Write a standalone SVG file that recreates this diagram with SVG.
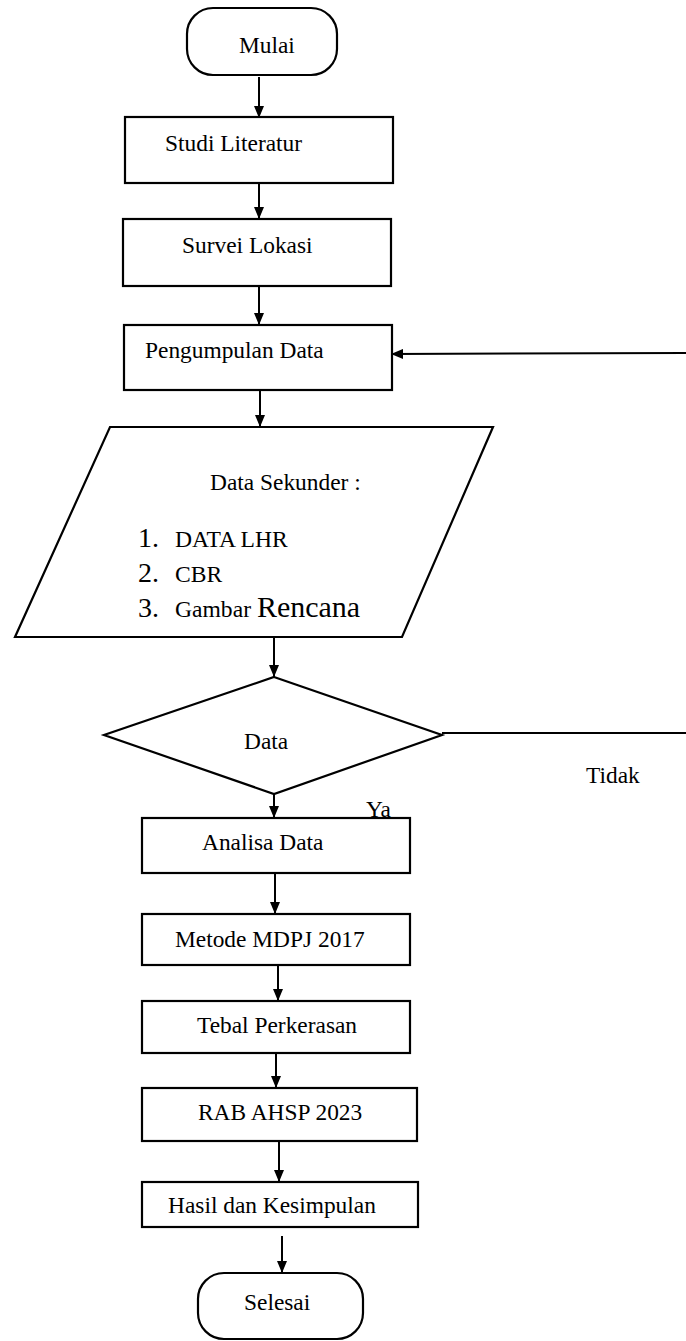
<svg xmlns="http://www.w3.org/2000/svg" width="686" height="1341" viewBox="0 0 686 1341">
<style>
.n{fill:#fff;stroke:#000;stroke-width:2.2}
.t{font-family:"Liberation Serif","Times New Roman",serif;font-size:23.4px;fill:#000}
.num{font-size:28px}
.sm{font-size:23.6px}
.c{stroke:#000;stroke-width:2;fill:none}
</style>
<defs>
<marker id="ah" markerUnits="userSpaceOnUse" markerWidth="12" markerHeight="10" refX="12" refY="5" orient="auto">
<path d="M0,0 L12,5 L0,10 z" fill="#000"/>
</marker>
</defs>
<rect width="686" height="1341" fill="#fff"/>
<g id="connectors">
<line class="c" x1="259" y1="77" x2="259" y2="118" marker-end="url(#ah)"/>
<line class="c" x1="259" y1="183" x2="259" y2="219" marker-end="url(#ah)"/>
<line class="c" x1="259" y1="286" x2="259" y2="325" marker-end="url(#ah)"/>
<line class="c" x1="260" y1="390" x2="260" y2="427" marker-end="url(#ah)"/>
<line class="c" x1="274" y1="637" x2="274" y2="677" marker-end="url(#ah)"/>
<line class="c" x1="274" y1="794" x2="274" y2="818" marker-end="url(#ah)"/>
<line class="c" x1="275" y1="873" x2="275" y2="914" marker-end="url(#ah)"/>
<line class="c" x1="278" y1="965" x2="278" y2="1001" marker-end="url(#ah)"/>
<line class="c" x1="276" y1="1053" x2="276" y2="1088" marker-end="url(#ah)"/>
<line class="c" x1="279" y1="1141" x2="279" y2="1182" marker-end="url(#ah)"/>
<line class="c" x1="282" y1="1236" x2="282" y2="1273" marker-end="url(#ah)"/>
<line class="c" x1="442" y1="733" x2="686" y2="733"/>
<line class="c" x1="686" y1="353" x2="391" y2="354" marker-end="url(#ah)"/>
</g>
<g id="mulai">
<rect class="n" x="187" y="8" width="150" height="67" rx="26"/>
<text class="t" x="239" y="53">Mulai</text>
</g>
<g id="studi">
<rect class="n" x="125" y="117" width="268" height="66"/>
<text class="t" x="165" y="151">Studi Literatur</text>
</g>
<g id="survei">
<rect class="n" x="123" y="219" width="268" height="67"/>
<text class="t" x="182" y="253">Survei Lokasi</text>
</g>
<g id="pengumpulan">
<rect class="n" x="124" y="325" width="268" height="65"/>
<text class="t" x="145" y="358">Pengumpulan Data</text>
</g>
<g id="datasekunder">
<polygon class="n" points="110,427 493,427 402,637 15,637"/>
<text class="t" x="210" y="490">Data Sekunder :</text>
<text class="t num" x="138" y="547">1.</text>
<text class="t sm" x="175" y="547">DATA LHR</text>
<text class="t num" x="138" y="582">2.</text>
<text class="t sm" x="175" y="582">CBR</text>
<text class="t num" x="138" y="617">3.</text>
<text class="t sm" x="175" y="617">Gambar <tspan style="font-size:30px">Rencana</tspan></text>
</g>
<g id="data">
<polygon class="n" points="274,677 442,735 274,794 104,735"/>
<text class="t" x="244" y="749">Data</text>
<text class="t" x="586" y="783">Tidak</text>
<text class="t" x="366" y="817">Ya</text>
</g>
<g id="analisa">
<rect class="n" x="142" y="818" width="268" height="55"/>
<text class="t" x="202" y="850">Analisa Data</text>
</g>
<g id="metode">
<rect class="n" x="142" y="914" width="268" height="51"/>
<text class="t" x="175" y="947">Metode MDPJ 2017</text>
</g>
<g id="tebal">
<rect class="n" x="142" y="1001" width="268" height="52"/>
<text class="t" x="197" y="1033">Tebal Perkerasan</text>
</g>
<g id="rab">
<rect class="n" x="142" y="1088" width="275" height="53"/>
<text class="t" x="198" y="1120">RAB AHSP 2023</text>
</g>
<g id="hasil">
<rect class="n" x="142" y="1182" width="276" height="45"/>
<text class="t" x="168" y="1213">Hasil dan Kesimpulan</text>
</g>
<g id="selesai">
<rect class="n" x="198" y="1273" width="165" height="66" rx="26"/>
<text class="t" x="244" y="1310">Selesai</text>
</g>
</svg>
